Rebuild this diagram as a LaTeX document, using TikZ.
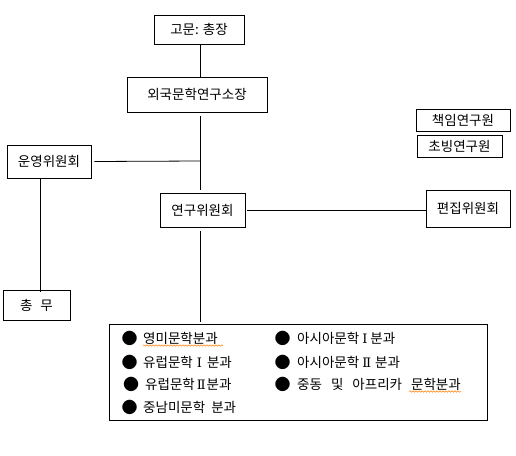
\documentclass[tikz,border=0pt]{standalone}
\usepackage{fontspec}
\setmainfont{Noto Sans CJK KR}
\newfontfamily\romfont{DejaVu Serif}
\newcommand{\RomI}{{\romfont\fontsize{13}{15}\selectfont Ⅰ}}
\newcommand{\RomII}{{\romfont\fontsize{13}{15}\selectfont Ⅱ}}
\usetikzlibrary{calc,decorations.pathmorphing}
\begin{document}
\begin{tikzpicture}[x=1pt,y=-1pt,
  box/.style={draw,line width=0.8pt,inner sep=0pt,font=\fontsize{13.5}{15}\selectfont},
  txt/.style={inner sep=0pt,font=\fontsize{13.5}{15}\selectfont},
  dot/.style={inner sep=0pt,font=\fontsize{16}{16}\selectfont},
  link/.style={line width=0.8pt},
  spell/.style={draw=orange,line width=0.5pt,decorate,decoration={snake,amplitude=0.7pt,segment length=3pt}}]
\useasboundingbox (0,0) rectangle (516,455);
\fill[white] (0,0) rectangle (516,455);
\node[box,minimum width=90pt,minimum height=29pt] (gomun) at (199,29.5) {고문: 총장};
\node[box,minimum width=140pt,minimum height=35pt] (soljang) at (197,94.5) {외국문학연구소장};
\node[box,minimum width=94pt,minimum height=22pt] (chaek) at (463,120) {책임연구원};
\node[box,minimum width=85pt,minimum height=22pt] (chobing) at (459.5,146) {초빙연구원};
\node[box,minimum width=84pt,minimum height=33pt] (unyoung) at (49,161.5) {운영위원회};
\node[box,minimum width=85pt,minimum height=34pt] (yeongu) at (202.5,210) {연구위원회};
\node[box,minimum width=84pt,minimum height=37pt] (pyeonjip) at (468,208.5) {편집위원회};
\node[box,minimum width=67pt,minimum height=30pt] (chongmu) at (36.5,305) {총\hspace{8pt}무};
\node[box,minimum width=378pt,minimum height=96pt] (bunkwa) at (298,372) {};
\coordinate (j1) at (200,161);
\coordinate (j2) at (40,200);
\draw[link] (gomun.south -| j1) -- (soljang.north -| j1);
\draw[link] ($(soljang.south -| j1)+(0,4)$) -- ($(yeongu.north -| j1)+(0,-3)$);
\draw[link] ($(unyoung.east)+(3,0)$) -- (j1);
\draw[link] ($(yeongu.east)+(2,0)$) -- (yeongu.east -| pyeonjip.west);
\draw[link] (unyoung.south -| j2) -- ($(chongmu.north -| j2)+(0,2)$);
\draw[link] ($(yeongu.south -| j1)+(0,4)$) -- ($(bunkwa.north -| j1)+(0,-2)$);
% items
\node[dot] (b1) at (129.5,338) {●};
\node[txt,anchor=west] (t1) at (143,338) {영미문학분과};
\node[dot] (b2) at (129.5,362) {●};
\node[txt,anchor=west] (t2) at (143,362) {유럽문학\hspace{4pt}\RomI{}\hspace{5pt}분과};
\node[dot] (b3) at (131,384) {●};
\node[txt,anchor=west] (t3) at (145,384) {유럽문학\hspace{2pt}\RomII{}\hspace{1pt}분과};
\node[dot] (b4) at (129.5,407) {●};
\node[txt,anchor=west] (t4) at (143,407) {중남미문학\hspace{6pt}분과};
\node[dot] (b5) at (282.5,338) {●};
\node[txt,anchor=west] (t5) at (297,338) {아시아문학\hspace{3pt}\RomI{}\hspace{3pt}분과};
\node[dot] (b6) at (282.5,362) {●};
\node[txt,anchor=west] (t6) at (297,362) {아시아문학\hspace{3pt}\RomII{}\hspace{4pt}분과};
\node[dot] (b7) at (282.5,384) {●};
\node[txt,anchor=west] (t7) at (297,384) {중동\hspace{9pt}및\hspace{9pt}아프리카\hspace{9pt}문학분과};
\draw[spell] (143,345.5) -- (223,345.5);
\draw[spell] (t7.east) ++(-52,7.5) -- ++(52,0);
\end{tikzpicture}
\end{document}
